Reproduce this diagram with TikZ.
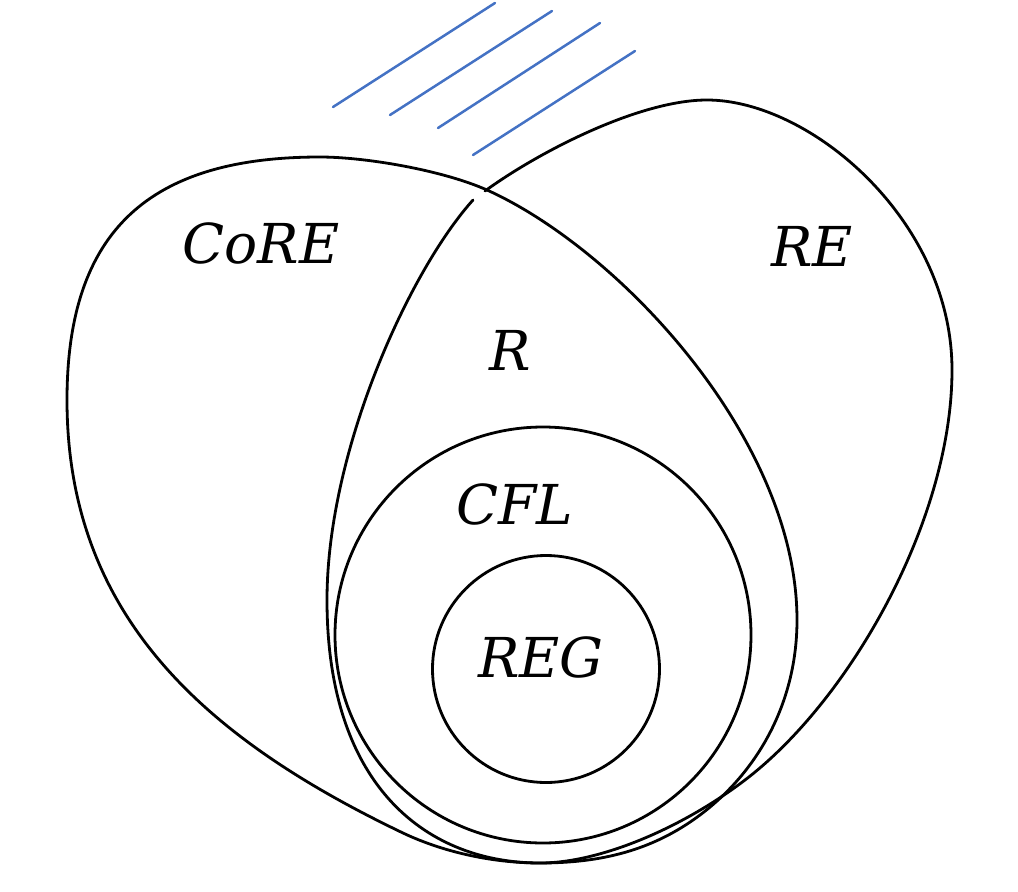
\documentclass[tikz,border=0pt]{standalone}
\usepackage{fontspec}
\setmainfont{DejaVu Serif}
\definecolor{hatchblue}{RGB}{68,114,196}
\begin{document}
\begin{tikzpicture}[x=1pt,y=-1pt,line join=round,line cap=round,
  boundary/.style={draw=black,line width=2.8pt},
  hatch/.style={draw=hatchblue,line width=2.5pt},
  lab/.style={font=\fontsize{55}{60}\selectfont\itshape,inner sep=0pt}]
\useasboundingbox (0,0) rectangle (1018,892);
% blue hatch lines
\draw[hatch] (333,107) -- (495,3);
\draw[hatch] (390,115) -- (552,11);
\draw[hatch] (438,128) -- (600,23);
\draw[hatch] (473,155) -- (635,51);
% CoRE
\draw[boundary] (487,190)
  .. controls (620,250) and (797,440) .. (797,620)
  .. controls (797,700) and (760,770) .. (700,815)
  .. controls (652,851) and (600,863) .. (540,863)
  .. controls (490,863) and (441,851) .. (403,833)
  .. controls (211,741) and (67,620) .. (67,400)
  .. controls (67,230) and (150,157) .. (320,157)
  .. controls (365,157) and (442,170) .. cycle;
% RE
\draw[boundary] (485,191)
  .. controls (540,151) and (640,100) .. (707,100)
  .. controls (810,100) and (952,220) .. (952,370)
  .. controls (952,520) and (850,700) .. (745,780)
  .. controls (682,828) and (600,863) .. (540,863)
  .. controls (430,863) and (327,790) .. (327,600)
  .. controls (327,450) and (410,270) .. (473,200);
% CFL and REG
\draw[boundary] (543,635) circle (208pt);
\draw[boundary] (546,669) circle (113.5pt);
% labels
\node[lab] (core) at (261,243) {CoRE};
\node[lab] (re) at (812,246) {RE};
\node[lab] (r) at (510,350) {R};
\node[lab] (cfl) at (515,504) {CFL};
\node[lab] (reg) at (541,657) {REG};
\end{tikzpicture}
\end{document}
